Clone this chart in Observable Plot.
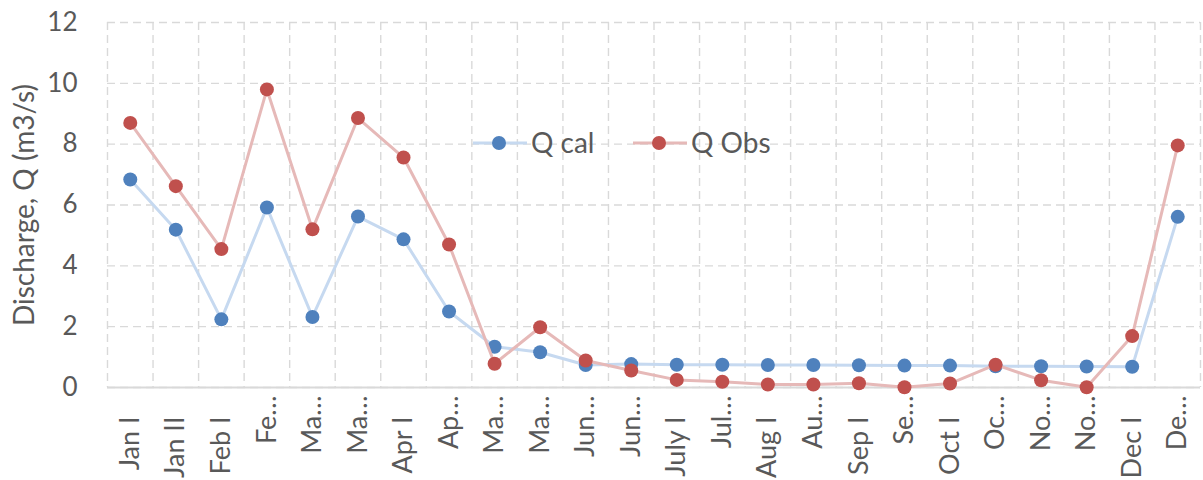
<!DOCTYPE html>
<html><head><meta charset="utf-8">
<script src="https://cdn.jsdelivr.net/npm/d3@7"></script>
<script src="https://cdn.jsdelivr.net/npm/@observablehq/plot@0.6"></script>
<style>
body{margin:0;background:#fff}
#chart{position:relative;width:1203px;height:480px;font-family:Lato,"Open Sans",sans-serif;color:#595959}
#legend{position:absolute;left:470px;top:127px}
</style>
</head><body><div id="chart"></div>
<script>
const categories = ["Jan I","Jan II","Feb I","Feb II","Mar I","Mar II","Apr I","Apr II","May I","May II","Jun I","Jun II","July I","July II","Aug I","Aug II","Sep I","Sep II","Oct I","Oct II","Nov I","Nov II","Dec I","Dec II"];
const tickLabels = ["Jan I","Jan II","Feb I","Fe…","Ma…","Ma…","Apr I","Ap…","Ma…","Ma…","Jun…","Jun…","July I","Jul…","Aug I","Au…","Sep I","Se…","Oct I","Oc…","No…","No…","Dec I","De…"];
const qCal = [6.84,5.19,2.24,5.92,2.32,5.62,4.87,2.5,1.34,1.16,0.74,0.77,0.75,0.75,0.74,0.74,0.73,0.72,0.72,0.70,0.70,0.69,0.68,5.61];
const qObs = [8.7,6.62,4.55,9.8,5.2,8.86,7.56,4.7,0.78,1.98,0.89,0.56,0.25,0.19,0.1,0.1,0.14,0.01,0.13,0.75,0.24,0.01,1.69,7.96];
const yTicks = [0,2,4,6,8,10,12];
const seriesNames = ["Q cal","Q Obs"];
const yTitle = "Discharge, Q (m3/s)";
const lineColors = ["#c6d9f0","#e6b9b8"];
const dotColors = ["#4f81bd","#c0504d"];
const FONT = 'Lato,"Open Sans",sans-serif';

const idx = categories.map((_, i) => i);
const calData = idx.map(i => ({i, v: qCal[i]}));
const obsData = idx.map(i => ({i, v: qObs[i]}));
const bounds = d3.range(categories.length + 1).map(k => k - 0.5);
const truncIdx = idx.filter(i => tickLabels[i].includes("…"));
const fullIdx = idx.filter(i => !tickLabels[i].includes("…"));

const chart = Plot.plot({
  width: 1203, height: 480,
  marginLeft: 107, marginRight: 3, marginTop: 22, marginBottom: 93,
  style: {fontFamily: FONT, fontSize: "22px", color: "#595959", background: "transparent", overflow: "visible"},
  x: {type: "linear", domain: [-0.5, categories.length - 0.5]},
  y: {domain: [0, 12]},
  marks: [
    Plot.gridY(yTicks, {stroke: "#d9d9d9", strokeOpacity: 1, strokeDasharray: "8,5", strokeWidth: 1.4}),
    Plot.ruleX(bounds, {stroke: "#d9d9d9", strokeOpacity: 1, strokeDasharray: "8,5", strokeWidth: 1.4}),
    Plot.ruleY([0], {stroke: "#d9d9d9", strokeWidth: 2}),
    Plot.axisY({ticks: yTicks, tickSize: 0, tickPadding: 30, fontSize: 26, label: null}),
    Plot.axisX({ticks: truncIdx, tickRotate: -90, tickSize: 0, tickPadding: 8, tickFormat: i => tickLabels[i], label: null, fontSize: 27}),
    Plot.axisX({ticks: fullIdx, tickRotate: -90, tickSize: 0, tickPadding: 29, tickFormat: i => tickLabels[i], label: null, fontSize: 27}),
    Plot.text([yTitle], {frameAnchor: "left", textAnchor: "middle", rotate: -90, dx: -82, fontSize: 28, fill: "#595959"}),
    Plot.line(calData, {x: "i", y: "v", stroke: lineColors[0], strokeWidth: 3}),
    Plot.dot(calData, {x: "i", y: "v", fill: dotColors[0], r: 7}),
    Plot.line(obsData, {x: "i", y: "v", stroke: lineColors[1], strokeWidth: 3}),
    Plot.dot(obsData, {x: "i", y: "v", fill: dotColors[1], r: 7})
  ]
});
const root = document.getElementById("chart");
root.appendChild(chart);

// legend inside plot area
const leg = d3.select(root).append("svg").attr("id", "legend").attr("width", 330).attr("height", 34)
  .style("overflow", "visible");
const offsets = [0, 160];
seriesNames.forEach((name, k) => {
  const g = leg.append("g").attr("transform", `translate(${offsets[k]},16)`);
  g.append("line").attr("x1", 3).attr("x2", 57).attr("stroke", lineColors[k]).attr("stroke-width", 3);
  g.append("circle").attr("cx", 29).attr("r", 7).attr("fill", dotColors[k]);
  g.append("text").attr("x", 61).attr("dy", "0.35em").attr("font-size", 28).attr("fill", "#595959")
    .attr("font-family", FONT).text(name);
});
</script>
</body></html>
